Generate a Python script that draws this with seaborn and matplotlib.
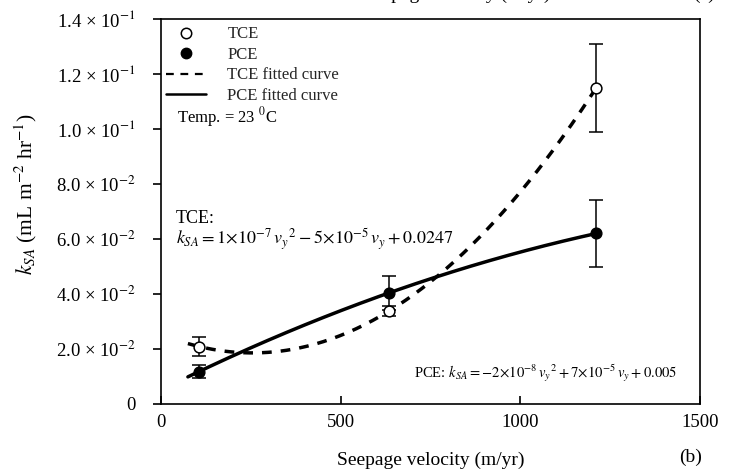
import numpy as np
import pandas as pd
import matplotlib
matplotlib.use("Agg")
import matplotlib.pyplot as plt
from matplotlib.ticker import FuncFormatter, FixedLocator
from matplotlib.lines import Line2D
import seaborn as sns

# Measured surface-area mass transfer coefficients vs seepage velocity
v_tce = [106, 635, 1212]
k_tce = [0.0209, 0.0338, 0.115]
err_tce = [0.0035, 0.0019, 0.016]

v_pce = [106, 635, 1212]
k_pce = [0.0118, 0.0404, 0.062]
err_pce = [0.0022, 0.0063, 0.0123]

x_ticks = [0, 500, 1000, 1500]
y_ticks = [0, 0.02, 0.04, 0.06, 0.08, 0.10, 0.12, 0.14]

x_label = "Seepage velocity (m/yr)"
y_label = r"$k_{SA}$ (mL m$^{-2}$ hr$^{-1}$)"
tce_eq = r"$k_{SA}=1\!\times\!10^{-7}\,v_y{}^2-5\!\times\!10^{-5}\,v_y+0.0247$"
pce_eq = r"PCE: $k_{SA}=-2\!\times\!10^{-8}\,v_y{}^2+7\!\times\!10^{-5}\,v_y+0.005$"
temp_note = r"Temp. = 23 $^0$C"

sns.set_theme(style="ticks")
plt.rcParams["font.family"] = ["Liberation Serif", "DejaVu Serif"]
plt.rcParams["mathtext.fontset"] = "stix"
plt.rcParams["axes.linewidth"] = 1.2

df = pd.DataFrame({
    "v": v_tce + v_pce,
    "k": k_tce + k_pce,
    "err": err_tce + err_pce,
    "compound": ["TCE"] * len(v_tce) + ["PCE"] * len(v_pce),
})

# Quadratic fits of k_SA against seepage velocity
v_fit = np.linspace(75, max(v_tce), 200)
fits = []
for name in ["TCE", "PCE"]:
    sub = df[df.compound == name]
    coef = np.polyfit(sub.v, sub.k, 2)
    fits.append(pd.DataFrame({"v": v_fit, "k": np.polyval(coef, v_fit), "compound": name}))
fit_df = pd.concat(fits, ignore_index=True)

fig = plt.figure(figsize=(7.35, 4.74), dpi=100)
ax = fig.add_axes([0.219, 0.1477, 0.733, 0.8123])

sns.lineplot(data=fit_df[fit_df.compound == "TCE"], x="v", y="k", ax=ax,
             color="black", lw=2.5, linestyle=(0, (2.8, 2.6)), legend=False)
sns.lineplot(data=fit_df[fit_df.compound == "PCE"], x="v", y="k", ax=ax,
             color="black", lw=2.5, legend=False)

tce = df[df.compound == "TCE"]
pce = df[df.compound == "PCE"]
ax.errorbar(pce.v, pce.k, yerr=pce.err, fmt="none", ecolor="black",
            elinewidth=1.1, capsize=5, capthick=1.1, zorder=3)
ax.errorbar(tce.v, tce.k, yerr=tce.err, fmt="none", ecolor="black",
            elinewidth=1.1, capsize=5, capthick=1.1, zorder=3)
sns.scatterplot(data=pce, x="v", y="k", ax=ax, marker="o", s=60,
                color="black", edgecolor="black", linewidth=1.0, zorder=4, legend=False)
sns.scatterplot(data=tce, x="v", y="k", ax=ax, marker="o", s=60,
                color="white", edgecolor="black", linewidth=1.1, zorder=5, legend=False)

ax.set_xlim(0, 1500)
ax.set_ylim(0, 0.14)
ax.xaxis.set_major_locator(FixedLocator(x_ticks))
ax.yaxis.set_major_locator(FixedLocator(y_ticks))


def sci_fmt(val, pos):
    if abs(val) < 1e-12:
        return "0"
    exp = int(np.floor(np.log10(abs(val)) + 1e-9))
    mant = val / 10 ** exp
    return "%.1f \u00d7 10$^{%d}$" % (mant, exp)


ax.yaxis.set_major_formatter(FuncFormatter(sci_fmt))
ax.tick_params(axis="y", direction="out", length=6, width=1.2, labelsize=13.5, pad=12, colors="black")
ax.tick_params(axis="x", direction="in", length=6, width=1.2, labelsize=13.5, pad=7, colors="black")
for sp in ax.spines.values():
    sp.set_visible(True)
    sp.set_color("black")
    sp.set_linewidth(1.2)

ax.set_xlabel(x_label, fontsize=14, labelpad=15, color="black")
ax.set_ylabel(y_label, fontsize=15.5, color="black")
ax.yaxis.set_label_coords(-0.226, 0.545)

handles = [
    Line2D([], [], marker="o", ls="none", markerfacecolor="white",
           markeredgecolor="black", markersize=7.5, markeredgewidth=1.1, label="TCE"),
    Line2D([], [], marker="o", ls="none", markerfacecolor="black",
           markeredgecolor="black", markersize=7.5, label="PCE"),
    Line2D([], [], color="black", lw=1.6, linestyle=(0, (3.5, 3.0)), label="TCE fitted curve"),
    Line2D([], [], color="black", lw=1.8, label="PCE fitted curve"),
]
ax.legend(handles=handles, loc="upper left", bbox_to_anchor=(-0.005, 1.0),
          frameon=False, fontsize=12, handlelength=2.4, handletextpad=1.3,
          labelspacing=0.27, borderaxespad=0.15, borderpad=0.3)

ax.text(0.029, 0.732, temp_note, transform=ax.transAxes, fontsize=12, color="black")
ax.text(0.027, 0.47, "TCE:", transform=ax.transAxes, fontsize=13, color="black")
ax.text(0.027, 0.415, tce_eq, transform=ax.transAxes, fontsize=13, color="black")
ax.text(0.47, 0.067, pce_eq, transform=ax.transAxes, fontsize=10.5, color="black")

fig.text(0.94, 0.025, "(b)", fontsize=14, ha="center", color="black")
# Caption line of the panel above, cut off at the top edge
fig.text(0.622, 1.0 + 0.8 / 474, x_label, fontsize=14, ha="center", va="baseline", color="black")
fig.text(0.958, 1.0 + 0.8 / 474, "(a)", fontsize=14, ha="center", va="baseline", color="black")

fig.savefig("out.png", dpi=100)
